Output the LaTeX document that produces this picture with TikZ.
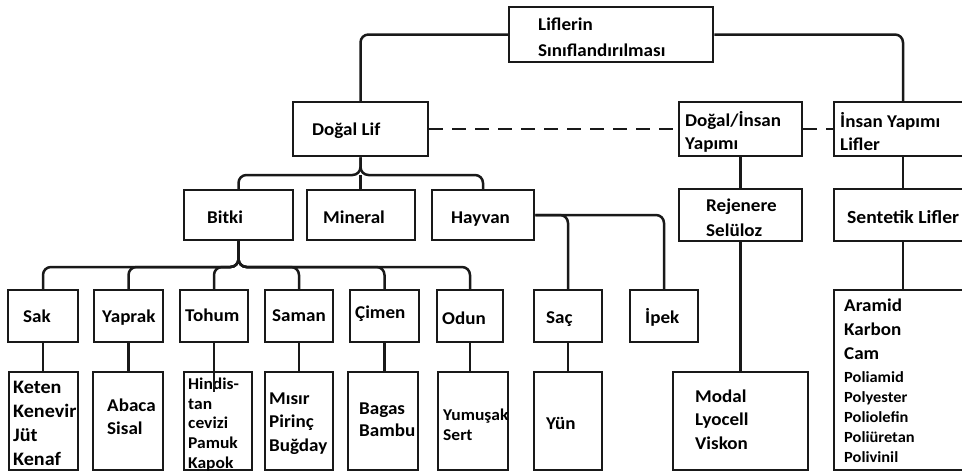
\documentclass[tikz,border=0pt]{standalone}
\usepackage{fontspec}
\setmainfont{Carlito}[FakeStretch=1.06]
\newcommand\bx[5]{\node[box, minimum width={#4pt-#2pt}, minimum height={#5pt-#3pt}] (#1) at ({(#2+#4)/2},{(#3+#5)/2}) {};}
\begin{document}
\begin{tikzpicture}[x=1pt,y=-1pt,
  box/.style={draw=black!90, line width=2.5pt, rectangle, inner sep=0pt},
  link/.style={draw=black!90, line width=2.5pt, rounded corners=8pt},
  dlink/.style={draw=black!90, line width=2.5pt, dash pattern=on 14pt off 9pt},
  txt/.style={anchor=west, inner sep=0pt, align=left, font=\bfseries\fontsize{18}{24}\selectfont},
  stxt/.style={txt, font=\bfseries\fontsize{15}{20}\selectfont}]
\useasboundingbox (0,0) rectangle (962,472);
% boxes
\bx{top}{509}{7}{713}{62}
\bx{DL}{293}{102}{428}{156}
\bx{DI}{679}{102}{802}{156}
\bx{IY}{834}{102}{972}{156}
\bx{Bitki}{184}{190}{293}{240}
\bx{Mineral}{307}{190}{415}{240}
\bx{Hayvan}{432}{190}{534}{240}
\bx{Rej}{679}{189}{802}{241}
\bx{Sent}{834}{189}{972}{241}
\bx{Sak}{8}{290}{78}{342}
\bx{Yaprak}{94}{290}{163}{342}
\bx{Tohum}{180}{290}{248}{342}
\bx{Saman}{265}{290}{333}{342}
\bx{Cimen}{350}{290}{419}{342}
\bx{Odun}{437}{290}{503}{342}
\bx{Sac}{534}{290}{602}{342}
\bx{Ipek}{630}{290}{698}{342}
\bx{Keten}{9}{372}{78}{470}
\bx{Abaca}{93}{372}{163}{470}
\bx{Hindis}{184}{372}{252}{470}
\bx{Misir}{265}{372}{333}{470}
\bx{Bagas}{348}{372}{418}{470}
\bx{Yumusak}{438}{372}{508}{470}
\bx{Yun}{534}{372}{602}{470}
\bx{Modal}{673}{372}{808}{470}
\bx{Aramid}{834}{290}{972}{470}
% texts
\node[txt, font=\bfseries\fontsize{18}{26}\selectfont] (t-top) at (538,37) {Liflerin\\Sınıflandırılması};
\node[txt] (t-DL) at (312,131) {Doğal Lif};
\node[txt, font=\bfseries\fontsize{18}{23}\selectfont] (t-DI) at (685,131.5) {Doğal/İnsan\\Yapımı};
\node[txt, font=\bfseries\fontsize{18}{23}\selectfont] (t-IY) at (840,131.5) {İnsan Yapımı\\Lifler};
\node[txt] (t-Bitki) at (207,217) {Bitki};
\node[txt] (t-Mineral) at (323,217) {Mineral};
\node[txt] (t-Hayvan) at (451,219) {Hayvan};
\node[txt, font=\bfseries\fontsize{18}{25}\selectfont] (t-Rej) at (706,217.5) {Rejenere\\Selüloz};
\node[txt, font=\bfseries\fontsize{18.5}{24}\selectfont] (t-Sent) at (847,217) {Sentetik Lifler};
\node[txt] (t-Sak) at (23,316) {Sak};
\node[txt] (t-Yaprak) at (102,318) {Yaprak};
\node[txt] (t-Tohum) at (185,315) {Tohum};
\node[txt] (t-Saman) at (272,316) {Saman};
\node[txt] (t-Cimen) at (355,314) {Çimen};
\node[txt] (t-Odun) at (442,318) {Odun};
\node[txt] (t-Sac) at (546,319) {Saç};
\node[txt] (t-Ipek) at (645,317) {İpek};
\node[txt, font=\bfseries\fontsize{19}{24}\selectfont] (t-Keten) at (13,423) {Keten\\Kenevir\\Jüt\\Kenaf};
\node[txt, font=\bfseries\fontsize{18}{23}\selectfont] (t-Abaca) at (107,416.5) {Abaca\\Sisal};
\node[stxt, font=\bfseries\fontsize{16.5}{19.75}\selectfont] (t-Hindis) at (188,424.5) {Hindis-\\tan\\cevizi\\Pamuk\\Kapok};
\node[txt, font=\bfseries\fontsize{18}{23.5}\selectfont] (t-Misir) at (269,423.5) {Mısır\\Pirinç\\Buğday};
\node[txt, font=\bfseries\fontsize{18}{22}\selectfont] (t-Bagas) at (359,420) {Bagas\\Bambu};
\node[stxt, font=\bfseries\fontsize{16.5}{20}\selectfont] (t-Yumusak) at (443,425) {Yumuşak\\Sert};
\node[txt] (t-Yun) at (546,423) {Yün};
\node[txt, font=\bfseries\fontsize{18}{23.5}\selectfont] (t-Modal) at (695,419.5) {Modal\\Lyocell\\Viskon};
\node[txt] (t-Aramid) at (844,329) {Aramid\\Karbon\\Cam};
\node[stxt, font=\bfseries\fontsize{15.5}{20}\selectfont] (t-Poli) at (844,417) {Poliamid\\Polyester\\Poliolefin\\Poliüretan\\Polivinil};
% connectors
\draw[link] (top.west) -| (DL.north);
\draw[link] (top.east) -| (IY.north);
\draw[dlink] (DL.east) -- (DI.west);
\draw[dlink] (DI.east) -- (IY.west);
\coordinate (j1) at (360.5,175);
\draw[link] (DL.south) -- (j1) -| (Bitki.north);
\draw[link] (DL.south) -- (j1) -| (Hayvan.north);
\draw[link] (j1) -- (Mineral.north -| j1);
\coordinate (j2) at (238.5,267);
\foreach \c in {Sak,Yaprak,Tohum,Saman,Cimen,Odun}
  \draw[link] (Bitki.south) -- (j2) -| (\c.north);
\draw[link] (Hayvan.east) -| (Sac.north);
\draw[link] (Hayvan.east) -| (Ipek.north);
\draw[link] (DI.south) -- (Rej.north);
\draw[link] (Rej.south) -- (Modal.north);
\draw[link] (IY.south) -- (Sent.north);
\draw[link] (Sent.south) -- (Aramid.north);
\draw[link] (Sak.south) -- (Sak.south |- Keten.north);
\draw[link] (Yaprak.south) -- (Yaprak.south |- Abaca.north);
\coordinate (tohumend) at (214,392);
\draw[link] (Tohum.south) -- (tohumend);
\draw[link] (Saman.south) -- (Misir.north);
\draw[link] (Cimen.south) -- (Cimen.south |- Bagas.north);
\draw[link] (Odun.south) -- (Odun.south |- Yumusak.north);
\draw[link] (Sac.south) -- (Yun.north);
\end{tikzpicture}
\end{document}
